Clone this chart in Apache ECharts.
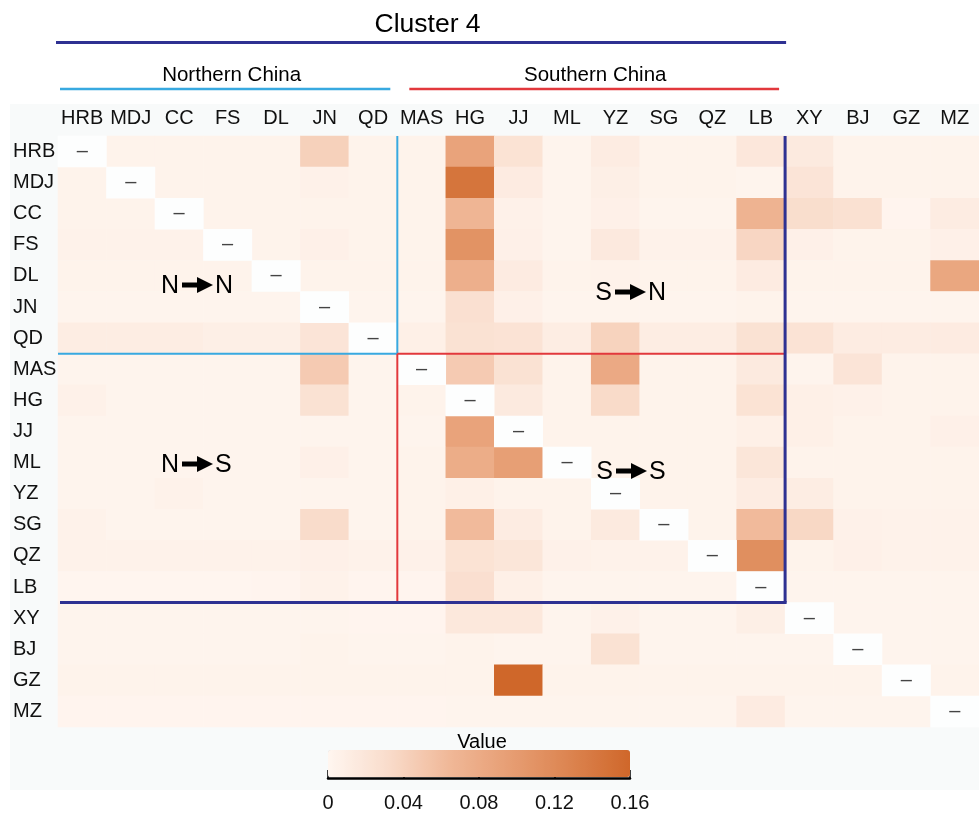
<!DOCTYPE html>
<html>
<head>
<meta charset="utf-8">
<script src="https://cdn.jsdelivr.net/npm/echarts@6/dist/echarts.min.js"></script>
<style>
  html, body { margin: 0; padding: 0; background: #fff; }
  #chart { width: 979px; height: 814px; }
</style>
</head>
<body>
<div id="chart"></div>
<script>
// sites, in plot order (rows = source, columns = target)
var sites = ['HRB', 'MDJ', 'CC', 'FS', 'DL', 'JN', 'QD', 'MAS', 'HG', 'JJ', 'ML', 'YZ', 'SG', 'QZ', 'LB', 'XY', 'BJ', 'GZ', 'MZ'];
var legendTicks = [0, 0.04, 0.08, 0.12, 0.16];

// migration rates, one row per source site (null = diagonal)
var rows = [
  /* HRB */ [null, .004, .004, .004, .004, .042, .004, .004, .09, .024, .003, .012, .004, .004, .018, .015, .004, .004, .004],
  /* MDJ */ [.004, null, .004, .004, .004, .006, .004, .004, .145, .013, .003, .009, .004, .004, .003, .022, .004, .004, .004],
  /* CC  */ [.004, .004, null, .004, .004, .004, .004, .004, .068, .006, .003, .007, .003, .003, .07, .03, .026, .002, .012],
  /* FS  */ [.005, .005, .005, null, .004, .007, .004, .004, .11, .007, .003, .016, .005, .005, .037, .007, .004, .004, .007],
  /* DL  */ [.004, .004, .004, .004, null, .004, .004, .004, .075, .013, .004, .005, .004, .004, .013, .004, .004, .004, .085],
  /* JN  */ [.003, .003, .003, .003, .003, null, .003, .003, .027, .007, .003, .003, .003, .003, .004, .003, .003, .003, .003],
  /* QD  */ [.011, .011, .011, .009, .009, .022, null, .008, .025, .023, .011, .04, .011, .011, .025, .023, .012, .012, .013],
  /* MAS */ [.003, .003, .003, .003, .003, .048, .003, null, .048, .025, .004, .082, .004, .004, .015, .003, .022, .004, .004],
  /* HG  */ [.006, .003, .003, .003, .003, .025, .003, .004, null, .015, .004, .033, .004, .004, .024, .008, .006, .004, .004],
  /* JJ  */ [.003, .003, .003, .003, .003, .003, .003, .003, .09, null, .004, .004, .004, .004, .008, .008, .004, .004, .007],
  /* ML  */ [.003, .003, .003, .003, .003, .007, .003, .004, .078, .095, null, .004, .004, .004, .02, .004, .004, .004, .004],
  /* YZ  */ [.003, .003, .005, .003, .003, .003, .003, .004, .008, .004, .004, null, .004, .004, .012, .011, .004, .004, .004],
  /* SG  */ [.005, .003, .003, .003, .003, .032, .003, .004, .062, .012, .004, .015, null, .004, .062, .036, .006, .005, .005],
  /* QZ  */ [.005, .005, .005, .005, .005, .007, .005, .006, .024, .02, .006, .005, .005, null, .115, .004, .007, .005, .005],
  /* LB  */ [.001, .001, .001, .001, .002, .005, .002, .002, .028, .008, .003, .003, .003, .003, null, .003, .003, .003, .003],
  /* XY  */ [.003, .003, .003, .003, .003, .003, .002, .002, .017, .017, .003, .006, .003, .003, .009, null, .003, .003, .003],
  /* BJ  */ [.003, .003, .003, .003, .003, .004, .003, .003, .004, .003, .003, .025, .003, .003, .003, .003, null, .003, .003],
  /* GZ  */ [.004, .004, .004, .004, .004, .004, .004, .004, .004, .16, .004, .004, .004, .004, .004, .004, .004, null, .004],
  /* MZ  */ [.002, .002, .002, .002, .002, .002, .002, .002, .003, .003, .003, .003, .003, .003, .013, .003, .003, .003, null]
];

var cells = [];
var diag = [];
rows.forEach(function (r, i) {
  r.forEach(function (v, j) {
    if (v === null) diag.push([j, i, 0]);
    else cells.push([j, i, v]);
  });
});

var FONT = 'Liberation Sans, Arial, DejaVu Sans, sans-serif';
var chart = echarts.init(document.getElementById('chart'));

chart.setOption({
  backgroundColor: '#ffffff',
  animation: false,
  grid: [
    { left: 58, top: 136, width: 921, height: 591 },
    { left: 328, top: 777, width: 302, height: 1 }
  ],
  xAxis: [{
    type: 'category', data: sites, position: 'top',
    axisLine: { show: false }, axisTick: { show: false }, splitLine: { show: false },
    axisLabel: { interval: 0, margin: 8, fontSize: 20, color: '#111', fontFamily: FONT }
  }, {
    gridIndex: 1, type: 'value', min: 0, max: 0.16, interval: 0.04, position: 'bottom',
    axisLine: { lineStyle: { color: '#000', width: 2.5 } },
    axisTick: { inside: true, length: 8, lineStyle: { color: '#000', width: 1.5 } },
    splitLine: { show: false },
    axisLabel: { margin: 15, fontSize: 20, color: '#111', fontFamily: FONT,
      formatter: function (v) { return legendTicks.indexOf(+v.toFixed(2)) >= 0 ? String(+v.toFixed(2)) : ''; } }
  }],
  yAxis: [{
    type: 'category', data: sites, inverse: true,
    axisLine: { show: false }, axisTick: { show: false }, splitLine: { show: false },
    axisLabel: { interval: 0, align: 'left', margin: 45, fontSize: 20, color: '#111', fontFamily: FONT }
  }, {
    gridIndex: 1, type: 'value', show: false
  }],
  visualMap: {
    type: 'continuous', seriesIndex: 0, min: 0, max: 0.16,
    orient: 'horizontal', left: 328, top: 750, padding: 0,
    itemWidth: 27, itemHeight: 302, calculable: false, hoverLink: false,
    text: ['', ''], textGap: 0,
    inRange: { color: ['#fff6f0', '#f9dccb', '#f0b898', '#e79e74', '#dc8450', '#cf672a'] }
  },
  series: [{
    type: 'heatmap', data: cells,
    emphasis: { disabled: true }
  }, {
    type: 'heatmap', data: diag,
    itemStyle: { color: '#fdfefe' },
    label: { show: true, formatter: '\u2013', fontSize: 20, color: '#444', fontFamily: FONT },
    emphasis: { disabled: true }
  }]
});

// category boundaries in pixels
function colEdge(name, side) {
  var i = sites.indexOf(name);
  var a = chart.convertToPixel({ gridIndex: 0 }, [i, 0])[0];
  var b = chart.convertToPixel({ gridIndex: 0 }, [i + 1 < sites.length ? i + 1 : i - 1, 0])[0];
  var half = Math.abs(b - a) / 2;
  return side < 0 ? a - half : a + half;
}
function rowEdge(name, side) {
  var i = sites.indexOf(name);
  var a = chart.convertToPixel({ gridIndex: 0 }, [0, i])[1];
  var b = chart.convertToPixel({ gridIndex: 0 }, [0, i + 1 < sites.length ? i + 1 : i - 1])[1];
  var half = Math.abs(b - a) / 2;
  return side < 0 ? a - half : a + half;
}

var xL = colEdge('HRB', -1), xNS = colEdge('QD', 1), xC = colEdge('LB', 1);
var yT = rowEdge('HRB', -1), yNS = rowEdge('QD', 1), yC = rowEdge('LB', 1);
var BLUE = '#38a9e0', RED = '#e2383c', NAVY = '#2e3192';

function seg(x1, y1, x2, y2, color, w) {
  return { type: 'line', z: 50, silent: true, shape: { x1: x1, y1: y1, x2: x2, y2: y2 },
    style: { stroke: color, lineWidth: w } };
}
function txt(x, y, s, size, align) {
  return { type: 'text', z: 60, silent: true, x: x, y: y,
    style: { text: s, fontSize: size, fontFamily: FONT, fill: '#000', align: align || 'center', verticalAlign: 'middle' } };
}
// "A -> B" quadrant label, (cx, cy) = centre
function flow(cx, cy, a, b) {
  return {
    type: 'group', x: cx, y: cy, z: 60, silent: true,
    children: [
      txt(-18, 1, a, 25, 'right'),
      { type: 'rect', z: 60, shape: { x: -15, y: -2.5, width: 17, height: 5 }, style: { fill: '#000' } },
      { type: 'polygon', z: 60, shape: { points: [[0, -8], [16, 0], [0, 8]] }, style: { fill: '#000' } },
      txt(18, 1, b, 25, 'left')
    ]
  };
}

chart.setOption({
  graphic: [
    { type: 'rect', z: -10, silent: true, shape: { x: 10, y: 104, width: 969, height: 686 }, style: { fill: '#f8fafa' } },
    // header
    txt((xL + xC) / 2 + 6, 25, 'Cluster 4', 26.5),
    seg(xL - 2, 42.5, xC + 1, 42.5, NAVY, 3),
    txt((colEdge('HRB', -1) + colEdge('QD', 1)) / 2 + 4, 75, 'Northern China', 20.5),
    seg(colEdge('HRB', -1) + 2, 89, colEdge('QD', 1) - 7, 89, BLUE, 2.5),
    txt((colEdge('MAS', -1) + colEdge('LB', 1)) / 2 + 4, 75, 'Southern China', 20.5),
    seg(colEdge('MAS', -1) + 12, 89, colEdge('LB', 1) - 6, 89, RED, 2.5),
    // quadrant lines
    seg(xNS, yT, xNS, yNS, BLUE, 2),
    seg(xL, yNS, xNS, yNS, BLUE, 2),
    seg(xNS, yNS, xNS, yC, RED, 2),
    seg(xNS, yNS, xC, yNS, RED, 2),
    seg(xC, yT, xC, yC, NAVY, 3),
    seg(xL + 2, yC, xC + 1.5, yC, NAVY, 3),
    // quadrant labels
    flow(197, 285, 'N', 'N'),
    flow(630, 292, 'S', 'N'),
    flow(197, 464, 'N', 'S'),
    flow(631, 471, 'S', 'S'),
    // legend title
    txt(482, 742, 'Value', 20)
  ]
});
</script>
</body>
</html>
